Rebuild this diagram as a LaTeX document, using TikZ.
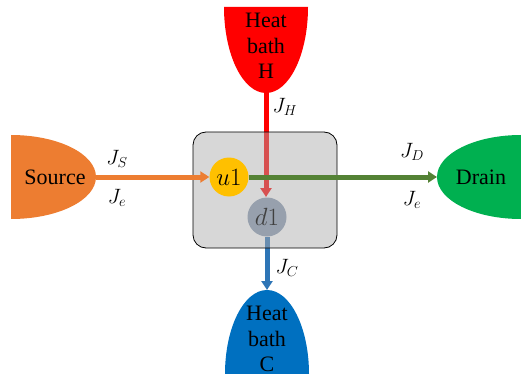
\documentclass[tikz,border=0pt]{standalone}
\usepackage{fontspec}
\setmainfont{Liberation Serif}
\usetikzlibrary{arrows.meta}
\definecolor{hotred}{HTML}{FF0000}
\definecolor{srcorange}{HTML}{ED7D31}
\definecolor{drgreen}{HTML}{00B050}
\definecolor{lngreen}{HTML}{548235}
\definecolor{coldblue}{HTML}{0070C0}
\definecolor{lnblue}{HTML}{2E75B6}
\definecolor{boxgray}{RGB}{170,170,170}
\definecolor{ugold}{HTML}{FFC000}
\definecolor{dgray}{HTML}{97A0AD}
\definecolor{dtext}{HTML}{404040}
\tikzset{
  flow/.style={line width=5pt},
  tip/.style={-{Triangle[length=9pt,width=11pt]}},
  bigtext/.style={font=\fontsize{22}{25.5}\selectfont, align=center},
  jlabel/.style={font=\fontsize{21}{24}\selectfont},
  site/.style={circle, minimum size=39pt, inner sep=0pt, font=\fontsize{24}{28}\selectfont},
}
\begin{document}
\begin{tikzpicture}[x=1pt,y=-1pt]
\useasboundingbox (0,0) rectangle (521,374);
% reservoirs
\fill[hotred] (224,7) arc[start angle=180,end angle=0,x radius=42,y radius=86] -- cycle;
\node[bigtext] (hottext) at (266,46) {Heat\\bath\\H};
\coordinate (htip) at (266,92);
\fill[coldblue] (225,374) arc[start angle=180,end angle=360,x radius=42,y radius=84] -- cycle;
\node[bigtext] (coldtext) at (267,339) {Heat\\bath\\C};
\coordinate (ctip) at (267,290);
\fill[srcorange] (11,135) arc[start angle=-90,end angle=90,x radius=85,y radius=42] -- cycle;
\node[bigtext] (srctext) at (55,177) {Source};
\coordinate (stip) at (96,177);
\fill[drgreen] (521,135) arc[start angle=270,end angle=90,x radius=84,y radius=42] -- cycle;
\node[bigtext] (drtext) at (481,177) {Drain};
\coordinate (dtip) at (437,177);
% sites (positions)
\coordinate (u1c) at (229,177);
\coordinate (d1c) at (267,217);
% lines beneath the box
\draw[flow, hotred, tip] (htip) -- (266,197);
\draw[flow, lnblue, tip] (267,237) -- (ctip);
% box
\draw[fill=boxgray, fill opacity=0.47, draw=black, rounded corners=13pt, line width=0.8pt] (193,132) rectangle (337,248);
% sites
\node[site, fill=ugold] (u1) at (u1c) {$u1$};
\node[site, fill=dgray, text=dtext] (d1) at (d1c) {$d1$};
% flows above the box
\draw[flow, srcorange, tip] (stip) -- (u1.west);
\draw[flow, lngreen, tip] (u1.east) -- (dtip);
% labels
\node[jlabel] (jh) at (285,107) {$J_H$};
\node[jlabel] (jc) at (287,268) {$J_C$};
\node[jlabel] (js) at (117,159) {$J_S$};
\node[jlabel] (je1) at (117,198) {$J_e$};
\node[jlabel] (jd) at (412,152) {$J_D$};
\node[jlabel] (je2) at (412,200) {$J_e$};
\end{tikzpicture}
\end{document}
